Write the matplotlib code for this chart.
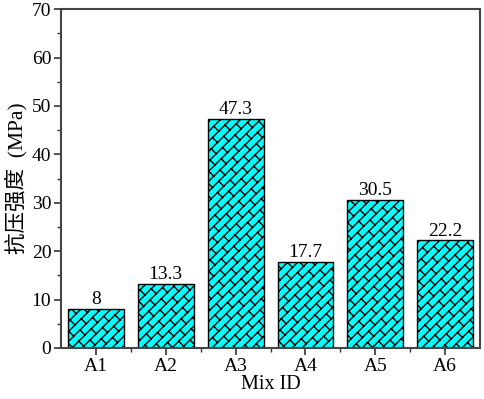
import numpy as np
import matplotlib
matplotlib.use('Agg')
import matplotlib.pyplot as plt
import matplotlib.hatch as mhatch
from matplotlib.path import Path

# compressive strength per mix
mix_ids = ['A1', 'A2', 'A3', 'A4', 'A5', 'A6']
strength = [8, 13.3, 47.3, 17.7, 30.5, 22.2]
value_labels = ['8', '13.3', '47.3', '17.7', '30.5', '22.2']


# brick hatch turned 45 deg (long lines along '/', short staggered joints)
class BrickHatch(mhatch.HatchPatternBase):
    def __init__(self, hatch, density):
        self.n = 10 if hatch.count('/') else 0
        self.m = 4
        if self.n:
            self.rows = list(range(-self.n, self.n))
            self.cols = 2 * self.m + 2
            self.num_vertices = 2 * (2 * self.n + 1) + 2 * len(self.rows) * self.cols
        else:
            self.num_vertices = 0

    def set_vertices_and_codes(self, vertices, codes):
        pts = []
        n, m = self.n, self.m
        # long lines  t = y - x = k/n
        for k in range(-n, n + 1):
            t = k / n
            pts.append(((0 - t) / 2, (0 + t) / 2))
            pts.append(((2 - t) / 2, (2 + t) / 2))
        # joints  s = x + y
        for k in self.rows:
            t0, t1 = k / n, (k + 1) / n
            off = 0.5 / m if k % 2 else 0.0
            for j in range(self.cols):
                s = j / m + off
                pts.append(((s - t0) / 2, (s + t0) / 2))
                pts.append(((s - t1) / 2, (s + t1) / 2))
        vertices[:] = np.array(pts)
        codes[0::2] = Path.MOVETO
        codes[1::2] = Path.LINETO


mhatch._hatch_types = [BrickHatch]

plt.rcParams['font.family'] = ['Liberation Serif', 'Noto Sans CJK SC']
plt.rcParams['hatch.linewidth'] = 1.0

fig = plt.figure(figsize=(4.84, 3.99), dpi=100)
ax = fig.add_axes([0.126, 0.128, 0.866, 0.849])

x = np.arange(1, len(mix_ids) + 1)
bars = ax.bar(x, strength, width=0.8, color='#00ffff', edgecolor='black',
              linewidth=1.0, hatch='/')
for xi, v, lab in zip(x, strength, value_labels):
    ax.text(xi, v + 0.2, lab, ha='center', va='bottom', fontsize=14)

ax.set_xlim(0.5, 6.5)
ax.set_ylim(0, 70)
ax.set_xticks(x)
ax.set_xticklabels(mix_ids)
ax.set_xticks(x[:-1] + 0.5, minor=True)
ax.set_yticks(np.arange(0, 71, 10))
ax.set_yticks(np.arange(5, 70, 10), minor=True)
ax.tick_params(which='major', direction='out', length=5, width=1.2,
               labelsize=14, color='#333333', pad=2)
ax.tick_params(which='minor', direction='out', length=3, width=1.0,
               color='#333333')
for sp in ax.spines.values():
    sp.set_linewidth(1.5)
    sp.set_color('#444444')

ax.set_xlabel('Mix ID', fontsize=14.5, labelpad=0)
ax.set_ylabel('抗压强度  (MPa)', fontsize=15.5, labelpad=3)

fig.savefig('out.png', dpi=100)
